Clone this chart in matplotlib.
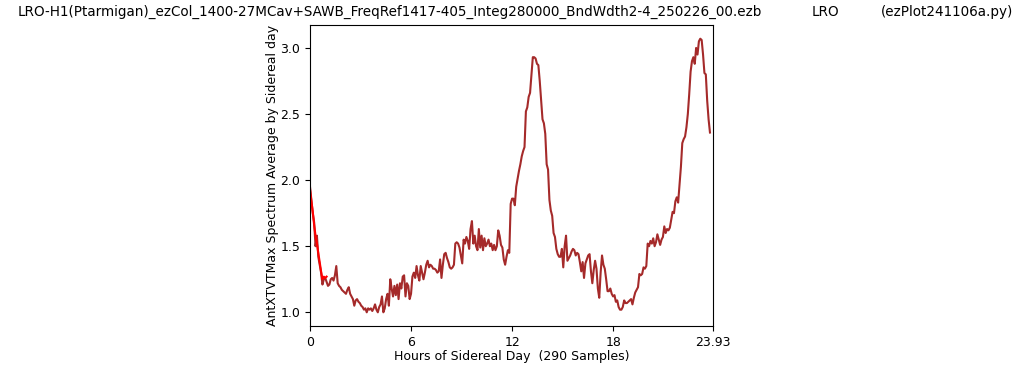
import numpy as np
import matplotlib
matplotlib.use("Agg")
import matplotlib.pyplot as plt

values = [
    1.95, 1.85, 1.75, 1.68, 1.50, 1.58, 1.42, 1.36, 1.30, 1.21,
    1.25, 1.26, 1.23, 1.20, 1.21, 1.25, 1.26, 1.24, 1.28, 1.35,
    1.22, 1.20, 1.19, 1.17, 1.16, 1.15, 1.14, 1.17, 1.19, 1.14,
    1.12, 1.10, 1.05, 1.09, 1.10, 1.08, 1.07, 1.05, 1.04, 1.02,
    1.03, 1.00, 1.03, 1.02, 1.03, 1.01, 1.03, 1.06, 1.02, 1.00,
    1.04, 1.06, 1.12, 1.00, 1.03, 1.10, 1.14, 1.05, 1.25, 1.18,
    1.12, 1.20, 1.13, 1.21, 1.10, 1.22, 1.18, 1.27, 1.28, 1.12,
    1.22, 1.20, 1.10, 1.14, 1.27, 1.30, 1.26, 1.35, 1.28, 1.24,
    1.35, 1.30, 1.25, 1.30, 1.36, 1.39, 1.34, 1.36, 1.35, 1.33,
    1.33, 1.32, 1.30, 1.31, 1.40, 1.26, 1.36, 1.44, 1.45, 1.41,
    1.38, 1.34, 1.33, 1.34, 1.36, 1.52, 1.53, 1.52, 1.49, 1.43,
    1.37, 1.55, 1.52, 1.57, 1.54, 1.48, 1.63, 1.69, 1.52, 1.58,
    1.50, 1.47, 1.63, 1.49, 1.58, 1.47, 1.56, 1.50, 1.52, 1.55,
    1.50, 1.52, 1.47, 1.51, 1.47, 1.50, 1.62, 1.58, 1.51, 1.49,
    1.40, 1.36, 1.42, 1.47, 1.45, 1.82, 1.86, 1.86, 1.81, 1.95,
    2.01, 2.07, 2.12, 2.18, 2.22, 2.25, 2.52, 2.55, 2.63, 2.66,
    2.80, 2.93, 2.93, 2.92, 2.88, 2.87, 2.75, 2.60, 2.46, 2.43,
    2.35, 2.12, 2.08, 1.85, 1.77, 1.73, 1.60, 1.57, 1.48, 1.44,
    1.42, 1.42, 1.48, 1.34, 1.50, 1.58, 1.39, 1.41, 1.43, 1.46,
    1.48, 1.47, 1.43, 1.45, 1.44, 1.38, 1.31, 1.38, 1.26, 1.37,
    1.40, 1.43, 1.44, 1.31, 1.22, 1.32, 1.39, 1.33, 1.18, 1.11,
    1.30, 1.43, 1.36, 1.33, 1.25, 1.16, 1.16, 1.18, 1.14, 1.12,
    1.13, 1.08, 1.09, 1.04, 1.02, 1.02, 1.04, 1.09, 1.07, 1.07,
    1.08, 1.09, 1.10, 1.06, 1.11, 1.15, 1.17, 1.19, 1.29, 1.28,
    1.29, 1.34, 1.33, 1.35, 1.52, 1.50, 1.54, 1.52, 1.56, 1.50,
    1.53, 1.59, 1.55, 1.51, 1.55, 1.57, 1.65, 1.60, 1.63, 1.62,
    1.64, 1.70, 1.76, 1.75, 1.84, 1.87, 1.83, 1.97, 2.10, 2.28,
    2.31, 2.33, 2.40, 2.50, 2.65, 2.82, 2.90, 2.93, 2.88, 3.00,
    2.95, 3.05, 3.07, 3.06, 2.95, 2.81, 2.80, 2.60, 2.46, 2.36,
]
red_values = [1.93, 1.84, 1.76, 1.66, 1.58, 1.52, 1.45, 1.38, 1.31, 1.25, 1.27, 1.26, 1.27]

n = len(values)
hours = np.linspace(0, 23.75, n)
xticks = [0, 6, 12, 18, 23.93]
xticklabels = ["0", "6", "12", "18", "23.93"]

title_main = "LRO-H1(Ptarmigan)_ezCol_1400-27MCav+SAWB_FreqRef1417-405_Integ280000_BndWdth2-4_250226_00.ezb"
title_site = "LRO"
title_prog = "(ezPlot241106a.py)"

W, H = 1024, 370
fig = plt.figure(figsize=(W / 100, H / 100), dpi=100)
ax = fig.add_axes([310 / W, 1 - 326 / H, 403 / W, 301 / H])
ax.plot(hours, values, color="brown", lw=1.5)
ax.plot(hours[:len(red_values)], red_values, color="red", lw=1.5)
ax.set_xlim(0, 23.93)
ax.set_xticks(xticks)
ax.set_xticklabels(xticklabels)
ax.set_yticks([1.0, 1.5, 2.0, 2.5, 3.0])
ax.tick_params(labelsize=9)
ax.set_xlabel("Hours of Sidereal Day  (290 Samples)", fontsize=9, labelpad=1)
ax.set_ylabel("AntXTVTMax Spectrum Average by Sidereal day", fontsize=9, labelpad=1)

ty = 1 - 12 / H
fig.text(18 / W, ty, title_main, ha="left", va="center", fontsize=9.75)
fig.text(812 / W, ty, title_site, ha="left", va="center", fontsize=9.75)
fig.text(881 / W, ty, title_prog, ha="left", va="center", fontsize=9.75)
fig.savefig("out.png", dpi=100)
